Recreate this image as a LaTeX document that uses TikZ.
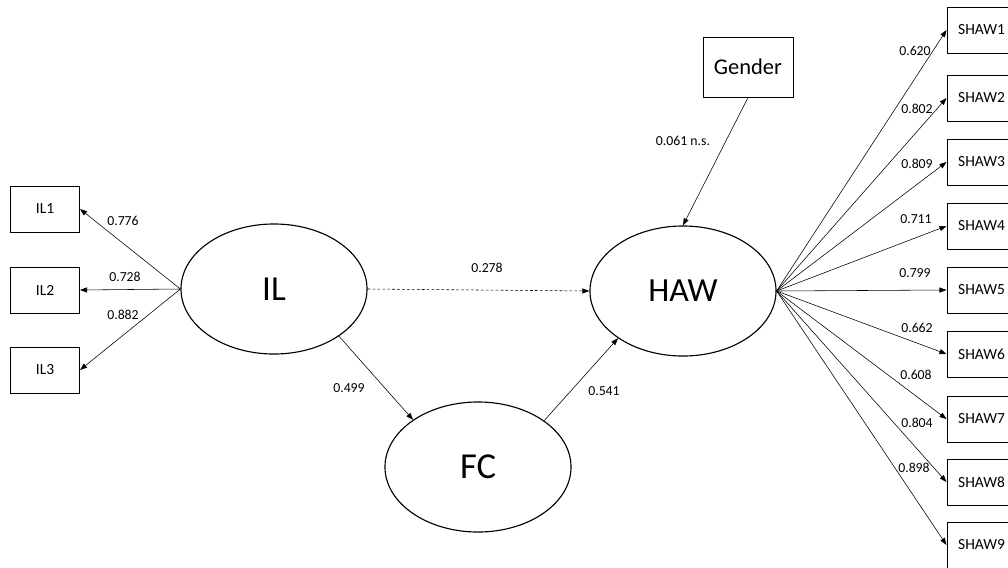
\documentclass[tikz,border=0pt]{standalone}
\usepackage{fontspec}
\setmainfont{Carlito}
\usepackage{tikz}
\usetikzlibrary{shapes.geometric,arrows.meta}

\begin{document}
\begin{tikzpicture}[
    x=0.025cm, y=-0.025cm,
    construct/.style={ellipse, draw, line width=0.8pt, minimum width=4.65cm, minimum height=3.25cm, inner sep=0pt},
    indicator/.style={rectangle, draw, line width=0.7pt, minimum width=1.725cm, minimum height=1.15cm, inner sep=0pt, font=\fontsize{11}{13}\selectfont},
    loading/.style={-{Triangle[length=5pt,width=3.6pt]}, line width=0.4pt},
    coef/.style={font=\fontsize{9.8}{11}\selectfont, inner sep=0pt}
]
  \useasboundingbox (0,0) rectangle (1008,567);
  \clip (0,0) rectangle (1008,567);

  % latent constructs
  \node[construct, font=\fontsize{25}{30}\selectfont] (il) at (274,289) {IL};
  \node[construct, font=\fontsize{24}{29}\selectfont] (haw) at (683,291) {HAW};
  \node[construct, font=\fontsize{26}{31}\selectfont] (fc) at (478,467) {FC};
  \node[indicator, minimum width=2.25cm, minimum height=1.5cm, font=\fontsize{16}{20}\selectfont] (gender) at (748,67) {Gender};

  % IL items
  \node[indicator] (il1) at (45,209) {IL1};
  \node[indicator] (il2) at (45,290) {IL2};
  \node[indicator] (il3) at (45,370) {IL3};

  % HAW items
  \node[indicator] (shaw1) at (981.5,30) {SHAW1};
  \node[indicator] (shaw2) at (981.5,98) {SHAW2};
  \node[indicator] (shaw3) at (981.5,162) {SHAW3};
  \node[indicator] (shaw4) at (981.5,226) {SHAW4};
  \node[indicator] (shaw5) at (981.5,290) {SHAW5};
  \node[indicator] (shaw6) at (981.5,354) {SHAW6};
  \node[indicator] (shaw7) at (981.5,419) {SHAW7};
  \node[indicator] (shaw8) at (981.5,482) {SHAW8};
  \node[indicator] (shaw9) at (981.5,545) {SHAW9};

  % structural paths
  \draw[loading, dash pattern=on 2pt off 1.5pt] (il.east) -- (haw.west);
  \draw[loading] (il.-36) -- (fc.144);
  \draw[loading] (fc.35) -- (haw.-144);
  \draw[loading] (gender.south) -- (haw.north);

  % measurement paths
  \draw[loading] (il.west) -- (il1.east);
  \draw[loading] (il.west) -- (il2.east);
  \draw[loading] (il.west) -- (il3.east);
  \draw[loading] (haw.east) -- (shaw1.west);
  \draw[loading] (haw.east) -- (shaw2.west);
  \draw[loading] (haw.east) -- (shaw3.west);
  \draw[loading] (haw.east) -- (shaw4.west);
  \draw[loading] (haw.east) -- (shaw5.west);
  \draw[loading] (haw.east) -- (shaw6.west);
  \draw[loading] (haw.east) -- (shaw7.west);
  \draw[loading] (haw.east) -- (shaw8.west);
  \draw[loading] (haw.east) -- (shaw9.west);

  % coefficients
  \node[coef] (c278) at (487,268) {0.278};
  \node[coef] (c499) at (349,388) {0.499};
  \node[coef] (c541) at (604,391) {0.541};
  \node[coef] (c061) at (683,141) {0.061 n.s.};
  \node[coef] (l776) at (123,221) {0.776};
  \node[coef] (l728) at (125,277) {0.728};
  \node[coef] (l882) at (123,315) {0.882};
  \node[coef] (l620) at (915,51) {0.620};
  \node[coef] (l802) at (917,109) {0.802};
  \node[coef] (l809) at (917,164) {0.809};
  \node[coef] (l711) at (916,219) {0.711};
  \node[coef] (l799) at (915,273) {0.799};
  \node[coef] (l662) at (917,328) {0.662};
  \node[coef] (l608) at (916,375) {0.608};
  \node[coef] (l804) at (917,423) {0.804};
  \node[coef] (l898) at (914,468) {0.898};
\end{tikzpicture}
\end{document}
